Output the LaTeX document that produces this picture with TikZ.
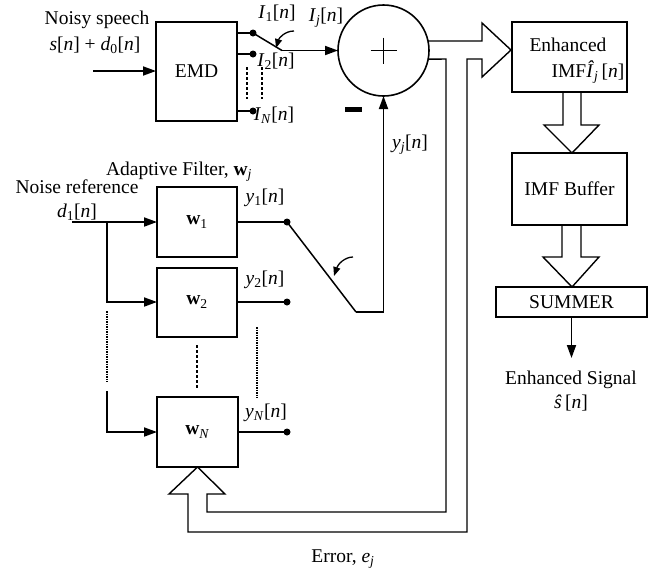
\documentclass[tikz,border=0pt]{standalone}
\usepackage{fontspec}
\setmainfont{Liberation Serif}
\usetikzlibrary{arrows.meta,calc}
\begin{document}
\begin{tikzpicture}[x=1pt,y=-1pt,line join=miter,
  every node/.style={font=\fontsize{19.5}{22}\selectfont, inner sep=0pt, outer sep=0pt},
  blk/.style={draw, line width=2pt},
  conn/.style={line width=1.8pt},
  arr/.style={conn, -{Triangle[length=13pt,width=9pt]}},
  hollow/.style={line width=1.4pt},
  swline/.style={line width=1.5pt},
  dotln/.style={line width=1.4pt, dash pattern=on 1.5pt off 1pt},
  dashln/.style={line width=1.5pt, dash pattern=on 3pt off 2pt},
  dotnode/.style={circle, fill, minimum size=7pt},
  curvarr/.style={line width=1.3pt, -{Triangle[length=9pt,width=7pt]}}]

\useasboundingbox (0,0) rectangle (663,574);

% ---------- blocks ----------
\node[blk, minimum width=81pt, minimum height=99pt] (emd) at (196.5,71.5) {EMD};
\node[blk, circle, minimum size=91pt, line width=1.6pt] (add) at (383.5,50.5) {};
\node[blk, minimum width=80pt, minimum height=70pt] (w1) at (197,222) {\textbf{w}\textsubscript{1}};
\node[blk, minimum width=80pt, minimum height=69pt] (w2) at (197,302) {\textbf{w}\textsubscript{2}};
\node[blk, minimum width=81pt, minimum height=70pt] (wN) at (197.5,432) {\textbf{w}\textsubscript{\textit{N}}};
\node[blk, minimum width=115pt, minimum height=70pt] (enh) at (569.5,57) {};
\node[blk, minimum width=115pt, minimum height=72pt] (buf) at (569.5,189) {IMF Buffer};
\node[blk, minimum width=151pt, minimum height=30pt] (summ) at (571.5,302) {SUMMER};

% plus sign
\draw[line width=1.4pt] ($(add.center)+(-13,0)$) -- ($(add.center)+(13,0)$);
\draw[line width=1.4pt] ($(add.center)+(0,-13)$) -- ($(add.center)+(0,13)$);
% minus sign
\fill (345,107) rectangle (362,112);

% ---------- texts ----------
\node (tnoisy) at (97,20) {Noisy speech};
\node (tsd) at (95,45) {\textit{s}[\textit{n}] + \textit{d}\textsubscript{0}[\textit{n}]};
\node (tI1) at (277,13) {\textit{I}\textsubscript{1}[\textit{n}]};
\node (tI2) at (276,61) {\textit{I}\textsubscript{2}[\textit{n}]};
\node (tIN) at (274,115) {\textit{I}\textsubscript{\textit{N}}[\textit{n}]};
\node (tIj) at (326,18) {\textit{I}\textsubscript{\textit{j}}[\textit{n}]};
\node (tyj) at (410,145) {\textit{y}\textsubscript{\textit{j}}[\textit{n}]};
\node (tadapt) at (179,172) {Adaptive Filter, \textbf{w}\textsubscript{\textit{j}}};
\node (tnoise) at (77,187) {Noise reference};
\node (td1) at (77,212) {\textit{d}\textsubscript{1}[\textit{n}]};
\node (ty1) at (265,198) {\textit{y}\textsubscript{1}[\textit{n}]};
\node (ty2) at (265,280) {\textit{y}\textsubscript{2}[\textit{n}]};
\node (tyN) at (266,413) {\textit{y}\textsubscript{\textit{N}}[\textit{n}]};
\node (terr) at (343,559) {Error, \textit{e}\textsubscript{\textit{j}}};
\node (tenh1) at (568,45) {Enhanced};
\node (tenh2) at (588,72) {IMF\textit{\^{I}}\textsubscript{\textit{j}}\,[\textit{n}]};
\node (tes1) at (571,380) {Enhanced Signal};
\node (tes2) at (571,403) {\textit{\^{s}}\,[\textit{n}]};

% ---------- EMD part ----------
\coordinate (inS) at (93,71);
\draw[arr] (inS) -- (emd.west |- inS);
\node[dotnode] (e1) at (253,33) {};
\node[dotnode] (e2) at (253,54) {};
\node[dotnode] (eN) at (253,111) {};
\draw[conn] (emd.east |- e1) -- (e1.center);
\draw[conn] (emd.east |- e2) -- (e2.center);
\draw[conn] (emd.east |- eN) -- (eN.center);
\coordinate (sw1) at (282,50.5);
\draw[swline] (e1.center) -- (sw1);
\draw[arr] (sw1) -- (add.west);
\draw[curvarr] (294,31) .. controls (285,31) and (279,38) .. (276,48);
\draw[dashln] (247,67) -- (247,99);
\draw[dashln] (262,67) -- (262,99);

% ---------- adaptive filters ----------
\coordinate (d1) at (72,222);
\coordinate (br) at (107,222);
\draw[arr] (d1) -- (w1.west);
\draw[arr] (br) |- (w2.west);
\coordinate (brN) at (107,391);
\draw[arr] (brN) |- (wN.west);
\draw[dotln] (107,311) -- (107,382);
\draw[dashln] (197,345) -- (197,388);
\draw[dotln] (257,327) -- (257,398);

\node[dotnode] (y1) at (287,222) {};
\node[dotnode] (y2) at (287,302) {};
\node[dotnode] (yN) at (287,432) {};
\draw[conn] (w1.east) -- (y1.center);
\draw[conn] (w2.east) -- (y2.center);
\draw[conn] (wN.east) -- (yN.center);

\coordinate (sw2) at (356,312);
\draw[swline] (y1.center) -- (sw2);
\draw[arr] (sw2) -| (add.south);
\draw[curvarr] (353,257) .. controls (345,257) and (338,264) .. (334,276);

% ---------- hollow arrows ----------
\draw[hollow] (add.12) -- (482,41) -- (482,23) -- (511,50) -- (482,77) -- (482,59)
  -- (467,59) -- (467,532) -- (188,532) -- (188,494) -- (169,494) -- (wN.south)
  -- (225,494) -- (207,494) -- (207,512) -- (446,512) -- (446,59) -- (add.-11);

\draw[hollow] (563,92) -- (563,125) -- (544,125) -- (572,153) -- (599,125) -- (581,125) -- (581,92);
\draw[hollow] (562,225) -- (562,257) -- (543,257) -- (572,287) -- (599,257) -- (581,257) -- (581,225);

% ---------- output ----------
\coordinate (outS) at (571.5,358);
\draw[arr] (summ.south) -- (outS);

\end{tikzpicture}
\end{document}
